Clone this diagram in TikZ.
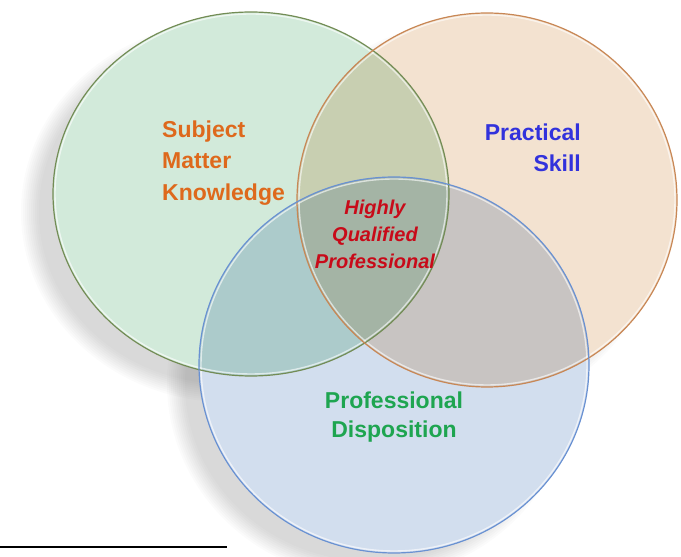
\documentclass[tikz,border=0pt]{standalone}
\usepackage{fontspec}
\setmainfont{Liberation Sans}

\definecolor{vertfond}{RGB}{210,234,218}
\definecolor{orangefond}{RGB}{243,226,208}
\definecolor{bleufond}{RGB}{210,222,238}
\definecolor{vertbord}{RGB}{115,140,85}
\definecolor{orangebord}{RGB}{200,135,85}
\definecolor{bleubord}{RGB}{105,145,210}
\definecolor{orangetexte}{RGB}{222,105,28}
\definecolor{bleutexte}{RGB}{50,50,220}
\definecolor{rougetexte}{RGB}{200,10,25}
\definecolor{verttexte}{RGB}{30,165,80}

\begin{document}
\begin{tikzpicture}[x=1pt, y=1pt]
	\tikzset{ombre/.style={fill=black, opacity=0.014},
		bord/.style={line width=1.2pt},
		reflet/.style={draw=white, line width=1.4pt, opacity=0.6},
		titre/.style={font=\fontsize{23}{31.5}\selectfont\bfseries, inner sep=0pt}};

	\useasboundingbox (0,0) rectangle (681,557);

	\coordinate (cvert)   at (251, 363);
	\coordinate (corange) at (487, 357);
	\coordinate (cbleu)   at (394, 192);

	% ombres douces
	\foreach \d in {0,2,...,18} {
		\fill[ombre] ([shift={(-24,-18)}]cvert)   ellipse [x radius=206-\d, y radius=190-\d];
		\fill[ombre] ([shift={(-24,-18)}]corange) ellipse [x radius=198-\d, y radius=195-\d];
		\fill[ombre] ([shift={(-24,-18)}]cbleu)   ellipse [x radius=203-\d, y radius=196-\d];
	}

	% fond blanc sous les disques
	\fill[white] (cvert)   ellipse [x radius=198, y radius=182];
	\fill[white] (corange) ellipse [x radius=190, y radius=187];
	\fill[white] (cbleu)   ellipse [x radius=195, y radius=188];

	% disques
	\begin{scope}[blend mode=multiply]
		\fill[vertfond]   (cvert)   ellipse [x radius=198, y radius=182];
		\fill[orangefond] (corange) ellipse [x radius=190, y radius=187];
		\fill[bleufond]   (cbleu)   ellipse [x radius=195, y radius=188];
	\end{scope}

	\draw[reflet] (cvert)   ellipse [x radius=196, y radius=180];
	\draw[reflet] (corange) ellipse [x radius=188, y radius=185];
	\draw[reflet] (cbleu)   ellipse [x radius=193, y radius=186];
	\draw[bord, vertbord]   (cvert)   ellipse [x radius=198, y radius=182];
	\draw[bord, orangebord] (corange) ellipse [x radius=190, y radius=187];
	\draw[bord, bleubord]   (cbleu)   ellipse [x radius=195, y radius=188];

	\node[titre, text=orangetexte, align=left, anchor=west] (savoir) at (162, 394) {Subject\\Matter\\Knowledge};
	\node[titre, text=bleutexte, align=right, anchor=east] (pratique) at (581, 409) {Practical\\Skill};
	\node[titre, font=\fontsize{20}{27}\selectfont\bfseries\itshape, text=rougetexte, align=center] (qualifie) at (375, 323) {Highly\\Qualified\\Professional};
	\node[titre, font=\fontsize{23}{29}\selectfont\bfseries, text=verttexte, align=center] (disposition) at (394, 140) {Professional\\Disposition};

	\draw[line width=1.5pt] (0,10) -- (227,10);
\end{tikzpicture}
\end{document}
